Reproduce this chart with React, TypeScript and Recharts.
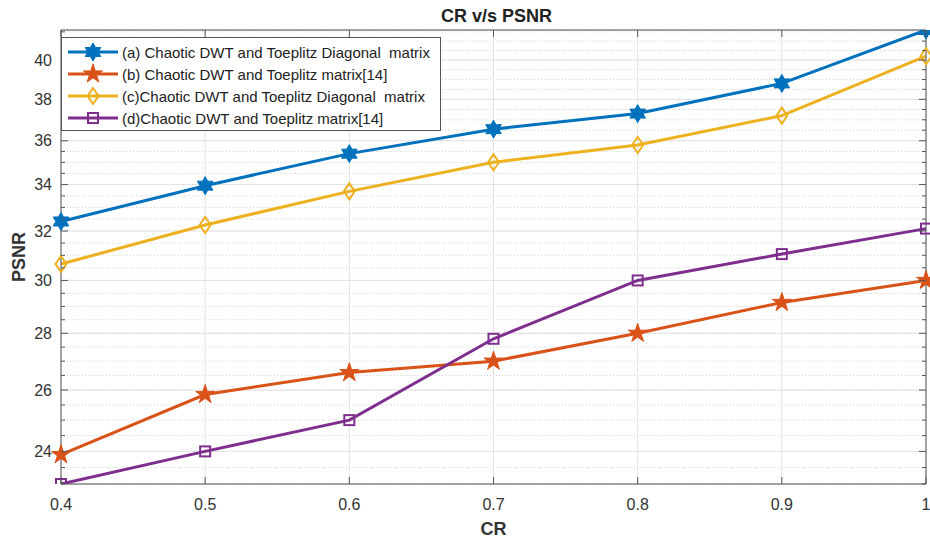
import React from 'react';
import { LineChart, Line, XAxis, YAxis, CartesianGrid, Legend } from 'recharts';

// compression ratio on the x axis
const crValues = [0.4, 0.5, 0.6, 0.7, 0.8, 0.9, 1];

// PSNR for each method
const psnrA = [32.4, 33.95, 35.4, 36.55, 37.3, 38.8, 41.6];
const psnrB = [23.9, 25.85, 26.6, 27.0, 28.0, 29.15, 30.0];
const psnrC = [30.65, 32.25, 33.7, 35.0, 35.8, 37.2, 40.2];
const psnrD = [23.0, 24.0, 25.0, 27.8, 30.0, 31.05, 32.1];

const seriesNames = [
  '(a) Chaotic DWT and Toeplitz Diagonal  matrix',
  '(b) Chaotic DWT and Toeplitz matrix[14]',
  '(c)Chaotic DWT and Toeplitz Diagonal  matrix',
  '(d)Chaotic DWT and Toeplitz matrix[14]',
];
const seriesKeys = ['a', 'b', 'c', 'd'];
const seriesColors = ['#0072BD', '#D95319', '#EDB120', '#7E2F8E'];
const seriesMarkers = ['hexagram', 'pentagram', 'diamond', 'square'];

const xTicks = [0.4, 0.5, 0.6, 0.7, 0.8, 0.9, 1];
const yMajorTicks = [24, 26, 28, 30, 32, 34, 36, 38, 40];
const yMinorTicks = [
  23, 23.5, 24, 24.5, 25, 25.5, 26, 26.5, 27, 27.5, 28, 28.5, 29, 29.5, 30, 30.5,
  31, 31.5, 32, 32.5, 33, 33.5, 34, 34.5, 35, 35.5, 36, 36.5, 37, 37.5, 38, 38.5,
  39, 39.5, 40, 40.5, 41, 41.5,
];
const yDomain = [23, 41.6];

const rows = crValues.map((cr, i) => ({
  cr,
  a: psnrA[i],
  b: psnrB[i],
  c: psnrC[i],
  d: psnrD[i],
}));

const FONT = '"Liberation Sans", Arial, Helvetica, sans-serif';
const AXIS = '#555';
const TEXT = '#333';

const Marker = ({ kind, cx, cy, color }: any) => {
  if (kind === 'hexagram' || kind === 'pentagram') {
    const n = kind === 'hexagram' ? 6 : 5;
    const R = kind === 'hexagram' ? 9 : 10;
    const r = kind === 'hexagram' ? R / Math.sqrt(3) : R * 0.382;
    const pts = Array.from({ length: n * 2 }, (_, k) => {
      const ang = (-90 + (k * 180) / n) * (Math.PI / 180);
      const rr = k % 2 === 0 ? R : r;
      return `${cx + rr * Math.cos(ang)},${cy + rr * Math.sin(ang)}`;
    }).join(' ');
    return <polygon points={pts} fill={color} stroke={color} strokeWidth={1} />;
  }
  if (kind === 'diamond') {
    const pts = `${cx},${cy - 8} ${cx + 5.5},${cy} ${cx},${cy + 8} ${cx - 5.5},${cy}`;
    return <polygon points={pts} fill="none" stroke={color} strokeWidth={2} />;
  }
  return <rect x={cx - 5} y={cy - 5} width={10} height={10} fill="none" stroke={color} strokeWidth={2} />;
};

const LeftTick = ({ x, y, payload }: any) => {
  const major = payload.value % 2 === 0;
  return (
    <g>
      <line x1={x} x2={x + (major ? 7 : 4)} y1={y} y2={y} stroke={AXIS} />
      {major && (
        <text x={x - 9} y={y} dy="0.35em" textAnchor="end" fill={TEXT} fontSize={16} fontFamily={FONT}>
          {payload.value}
        </text>
      )}
    </g>
  );
};

const RightTick = ({ x, y, payload }: any) => {
  const major = payload.value % 2 === 0;
  return <line x1={x} x2={x - (major ? 7 : 4)} y1={y} y2={y} stroke={AXIS} />;
};

const BottomTick = ({ x, y, payload }: any) => (
  <g>
    <line x1={x} x2={x} y1={y} y2={y - 7} stroke={AXIS} />
    <text x={x} y={y + 20} dy="0.35em" textAnchor="middle" fill={TEXT} fontSize={16} fontFamily={FONT}>
      {payload.value}
    </text>
  </g>
);

const TopTick = ({ x, y }: any) => <line x1={x} x2={x} y1={y} y2={y + 7} stroke={AXIS} />;

const LegendBox = () => (
  <div
    style={{
      border: `1px solid ${AXIS}`,
      background: '#fff',
      padding: '3px 0 1px 0',
      width: 378,
      fontFamily: FONT,
      fontSize: 15,
      color: '#222',
    }}
  >
    {seriesNames.map((name, i) => (
      <div key={name} style={{ display: 'flex', alignItems: 'center', height: 22 }}>
        <svg width={60} height={22} style={{ flex: 'none' }}>
          <line x1={6} x2={56} y1={11} y2={11} stroke={seriesColors[i]} strokeWidth={3} />
          <Marker kind={seriesMarkers[i]} cx={31} cy={11} color={seriesColors[i]} />
        </svg>
        <span style={{ whiteSpace: 'pre' }}>{name}</span>
      </div>
    ))}
  </div>
);

export default function App() {
  return (
    <div style={{ position: 'absolute', left: 0, top: 0, width: 930, height: 540, background: '#fff' }}>
      <LineChart width={930} height={540} data={rows} margin={{ top: 24, right: 0, bottom: 0, left: 0 }}>
        <CartesianGrid xAxisId="x" yAxisId="minor" vertical={false} stroke="#d2d2d2" strokeDasharray="1 2" />
        <CartesianGrid xAxisId="x" yAxisId="major" stroke="#e2e2e2" />
        <XAxis
          xAxisId="x"
          dataKey="cr"
          type="number"
          domain={[0.4, 1]}
          ticks={xTicks}
          interval={0}
          height={56}
          tickSize={0}
          tickMargin={0}
          tick={<BottomTick />}
          stroke={AXIS}
          label={{
            content: ({ viewBox }: any) => (
              <text x={viewBox.x + viewBox.width / 2} y={529} dy="0.35em" textAnchor="middle" fontWeight="bold" fontSize={18} fontFamily={FONT} fill={TEXT}>
                CR
              </text>
            ),
          }}
        />
        <XAxis
          xAxisId="top"
          orientation="top"
          dataKey="cr"
          type="number"
          domain={[0.4, 1]}
          ticks={xTicks}
          interval={0}
          height={6}
          tickSize={0}
          tickMargin={0}
          tick={<TopTick />}
          stroke={AXIS}
          label={{
            content: ({ viewBox }: any) => (
              <text x={viewBox.x + viewBox.width / 2 + 3} y={16} dy="0.35em" textAnchor="middle" fontWeight="bold" fontSize={18} fontFamily={FONT} fill="#222">
                CR v/s PSNR
              </text>
            ),
          }}
        />
        <YAxis
          yAxisId="minor"
          type="number"
          scale="log"
          domain={yDomain}
          allowDataOverflow
          ticks={yMinorTicks}
          interval={0}
          width={61}
          tickSize={0}
          tickMargin={0}
          tick={<LeftTick />}
          stroke={AXIS}
          label={{
            content: ({ viewBox }: any) => {
              const cx = viewBox.x + 19;
              const cy = viewBox.y + viewBox.height / 2;
              return (
                <text x={cx} y={cy} dy="0.35em" textAnchor="middle" transform={`rotate(-90 ${cx} ${cy})`} fontWeight="bold" fontSize={18} fontFamily={FONT} fill={TEXT}>
                  PSNR
                </text>
              );
            },
          }}
        />
        <YAxis
          yAxisId="right"
          orientation="right"
          type="number"
          scale="log"
          domain={yDomain}
          allowDataOverflow
          ticks={yMinorTicks}
          interval={0}
          width={4}
          tickSize={0}
          tickMargin={0}
          tick={<RightTick />}
          stroke={AXIS}
        />
        <YAxis
          yAxisId="major"
          orientation="right"
          hide
          width={0}
          type="number"
          scale="log"
          domain={yDomain}
          allowDataOverflow
          ticks={yMajorTicks}
          interval={0}
        />
        {seriesKeys.map((key, i) => (
          <Line
            key={key}
            xAxisId="x"
            yAxisId="minor"
            dataKey={key}
            name={seriesNames[i]}
            stroke={seriesColors[i]}
            strokeWidth={3}
            isAnimationActive={false}
            dot={(p: any) => <Marker key={`${key}-${p.index}`} kind={seriesMarkers[i]} cx={p.cx} cy={p.cy} color={seriesColors[i]} />}
            activeDot={false}
          />
        ))}
        <Legend
          layout="vertical"
          align="center"
          verticalAlign="middle"
          wrapperStyle={{ left: 61, top: 37, width: 380, height: 'auto' }}
          content={() => <LegendBox />}
        />
      </LineChart>
    </div>
  );
}
